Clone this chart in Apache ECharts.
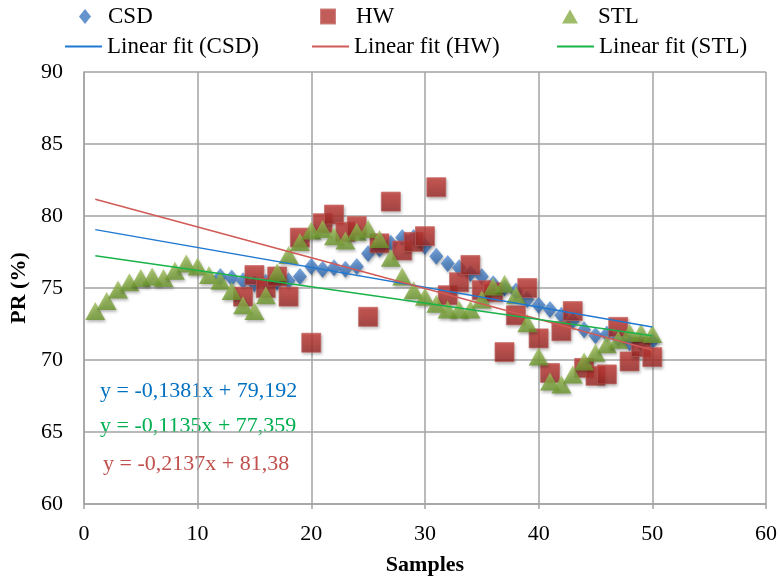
<!DOCTYPE html>
<html>
<head>
<meta charset="utf-8">
<script src="https://cdn.jsdelivr.net/npm/echarts@6/dist/echarts.min.js"></script>
<style>html,body{margin:0;padding:0;background:#fff}#c{width:780px;height:581px}</style>
</head>
<body>
<div id="c"></div>
<script>
// ---- data ----
var xTicks = [0, 10, 20, 30, 40, 50, 60];
var yTicks = [60, 65, 70, 75, 80, 85, 90];

var csdSamples = [12,13,14,15,16,17,18,19,20,21,22,23,24,25,26,27,28,29,30,31,32,33,34,35,36,37,38,39,40,41,42,43,44,45,46,47,48,49,50];
var csdValues = [75.8,75.7,75.5,75.3,75.4,75.4,75.5,75.8,76.5,76.3,76.4,76.3,76.5,77.4,77.7,78.1,78.5,78.5,77.9,77.2,76.7,76.4,76.0,75.8,75.3,75.0,74.8,74.2,73.8,73.5,73.1,72.7,72.1,71.7,71.8,71.5,71.2,71.2,71.3];

var hwSamples = [14,15,16,17,18,19,20,21,22,23,24,25,26,27,28,29,30,31,32,33,34,35,36,37,38,39,40,41,42,43,44,45,46,47,48,49,50];
var hwValues = [74.4,75.9,75.0,75.8,74.4,78.5,71.2,79.5,80.1,78.9,79.3,73.0,78.1,81.0,77.6,78.2,78.6,82.0,74.5,75.4,76.6,74.85,74.7,70.55,73.1,75.0,71.5,69.1,72.0,73.4,69.45,68.9,69.0,72.3,69.9,70.9,70.2];

var stlSamples = [1,2,3,4,5,6,7,8,9,10,11,12,13,14,15,16,17,18,19,20,21,22,23,24,25,26,27,28,29,30,31,32,33,34,35,36,37,38,39,40,41,42,43,44,45,46,47,48,49,50];
var stlValues = [73.4,74.1,74.9,75.4,75.7,75.8,75.7,76.2,76.7,76.5,75.9,75.5,74.8,73.8,73.4,74.5,76.1,77.3,78.2,79.0,79.1,78.6,78.3,78.9,79.1,78.4,77.1,75.8,74.85,74.4,73.9,73.5,73.5,73.5,74.2,75.1,75.3,74.5,72.55,70.25,68.5,68.3,69.0,69.9,70.5,71.1,71.4,71.9,71.9,71.8];

// linear fits (from the equations shown in the chart)
var fitNames = ['Linear fit (CSD)', 'Linear fit (HW)', 'Linear fit (STL)'];
var fitSlopes = [-0.1381, -0.2137, -0.1135];
var fitIntercepts = [79.192, 81.38, 77.359];
var fitRange = [1, 50];
var equationTexts = ['y = -0,1381x + 79,192', 'y = -0,1135x + 77,359', 'y = -0,2137x + 81,38'];

// ---- build ----
function pairs(xs, ys) { return xs.map(function (x, i) { return [x, ys[i]]; }); }
function fitLine(k) {
  return fitRange.map(function (x) { return [x, fitSlopes[k] * x + fitIntercepts[k]]; });
}
function grad(c1, c2) {
  return new echarts.graphic.LinearGradient(0, 0, 0, 1, [{offset: 0, color: c1}, {offset: 1, color: c2}]);
}
var FONT = '"Liberation Serif", "Times New Roman", serif';
var gridColor = '#a3a3a3';
var shadow = {shadowBlur: 3, shadowColor: 'rgba(0,0,0,0.35)', shadowOffsetX: 1, shadowOffsetY: 2};

var chart = echarts.init(document.getElementById('c'), null, {renderer: 'canvas'});

function legendItem(name, icon, left, top, w, h, padLeft, color) {
  return {
    data: [{name: name, icon: icon, itemStyle: {color: color}}],
    left: left, top: top, itemWidth: w, itemHeight: h,
    padding: 0,
    textStyle: {fontFamily: FONT, fontSize: 23, color: '#000', padding: [0, 0, 0, padLeft]},
    selectedMode: false
  };
}

var option = {
  animation: false,
  backgroundColor: '#fff',
  grid: {left: 79, right: 14, top: 72, bottom: 74, containLabel: false},
  legend: [
    legendItem('CSD', 'diamond', 79, 5, 12, 15, 12, '#3f78c0'),
    legendItem('HW', 'rect', 320, 5, 14, 14, 16, '#b3332f'),
    legendItem('STL', 'triangle', 562, 5, 16, 14, 15, '#86ab44'),
    legendItem('Linear fit (CSD)', 'rect', 65, 35, 37, 2, 0, '#1f78d1'),
    legendItem('Linear fit (HW)', 'rect', 312, 35, 37, 2, 0, '#d05a55'),
    legendItem('Linear fit (STL)', 'rect', 557, 35, 37, 2, 0, '#19b34a')
  ],
  xAxis: {
    type: 'value', min: xTicks[0], max: xTicks[xTicks.length - 1], interval: 10,
    name: 'Samples', nameLocation: 'middle', nameGap: 50,
    nameTextStyle: {fontFamily: FONT, fontSize: 22, fontWeight: 'bold', color: '#000'},
    axisLine: {show: true, lineStyle: {color: gridColor, width: 1.5}},
    axisTick: {show: true, length: 5, lineStyle: {color: gridColor, width: 1.5}},
    axisLabel: {fontFamily: FONT, fontSize: 22, color: '#000', margin: 19},
    splitLine: {show: true, lineStyle: {color: gridColor, width: 1.5}}
  },
  yAxis: {
    type: 'value', min: yTicks[0], max: yTicks[yTicks.length - 1], interval: 5,
    name: 'PR (%)', nameLocation: 'middle', nameGap: 50,
    nameTextStyle: {fontFamily: FONT, fontSize: 22, fontWeight: 'bold', color: '#000'},
    axisLine: {show: true, lineStyle: {color: gridColor, width: 1.5}},
    axisTick: {show: false},
    axisLabel: {fontFamily: FONT, fontSize: 22, color: '#000', margin: 21},
    splitLine: {show: true, lineStyle: {color: gridColor, width: 1.5}}
  },
  graphic: [
    {type: 'text', left: 100, top: 380, style: {text: equationTexts[0], fontFamily: FONT, fontSize: 22, fill: '#0070c0'}},
    {type: 'text', left: 100, top: 415, style: {text: equationTexts[1], fontFamily: FONT, fontSize: 22, fill: '#00b050'}},
    {type: 'text', left: 103, top: 453, style: {text: equationTexts[2], fontFamily: FONT, fontSize: 22, fill: '#c0504d'}}
  ],
  series: [
    {
      name: 'CSD', type: 'scatter', data: pairs(csdSamples, csdValues),
      symbol: 'diamond', symbolSize: [14, 17], z: 2,
      itemStyle: Object.assign({color: grad('#5a92d8', '#2c62a8')}, shadow)
    },
    {
      name: 'HW', type: 'scatter', data: pairs(hwSamples, hwValues),
      symbol: 'rect', symbolSize: [19, 19], z: 3,
      itemStyle: Object.assign({color: grad('#cc3c37', '#982825'), borderColor: '#c0605c', borderWidth: 0.8}, shadow)
    },
    {
      name: 'STL', type: 'scatter', data: pairs(stlSamples, stlValues),
      symbol: 'triangle', symbolSize: [20, 18], z: 4,
      itemStyle: Object.assign({color: grad('#a0c05a', '#6a952b')}, shadow)
    },
    {
      name: fitNames[0], type: 'line', data: fitLine(0), showSymbol: false, symbol: 'none', z: 5,
      lineStyle: {color: '#1f78d1', width: 1.5}, itemStyle: {color: '#1f78d1'}
    },
    {
      name: fitNames[1], type: 'line', data: fitLine(1), showSymbol: false, symbol: 'none', z: 5,
      lineStyle: {color: '#d05a55', width: 1.5}, itemStyle: {color: '#d05a55'}
    },
    {
      name: fitNames[2], type: 'line', data: fitLine(2), showSymbol: false, symbol: 'none', z: 5,
      lineStyle: {color: '#19b34a', width: 1.5}, itemStyle: {color: '#19b34a'}
    }
  ]
};
chart.setOption(option);
</script>
</body>
</html>
